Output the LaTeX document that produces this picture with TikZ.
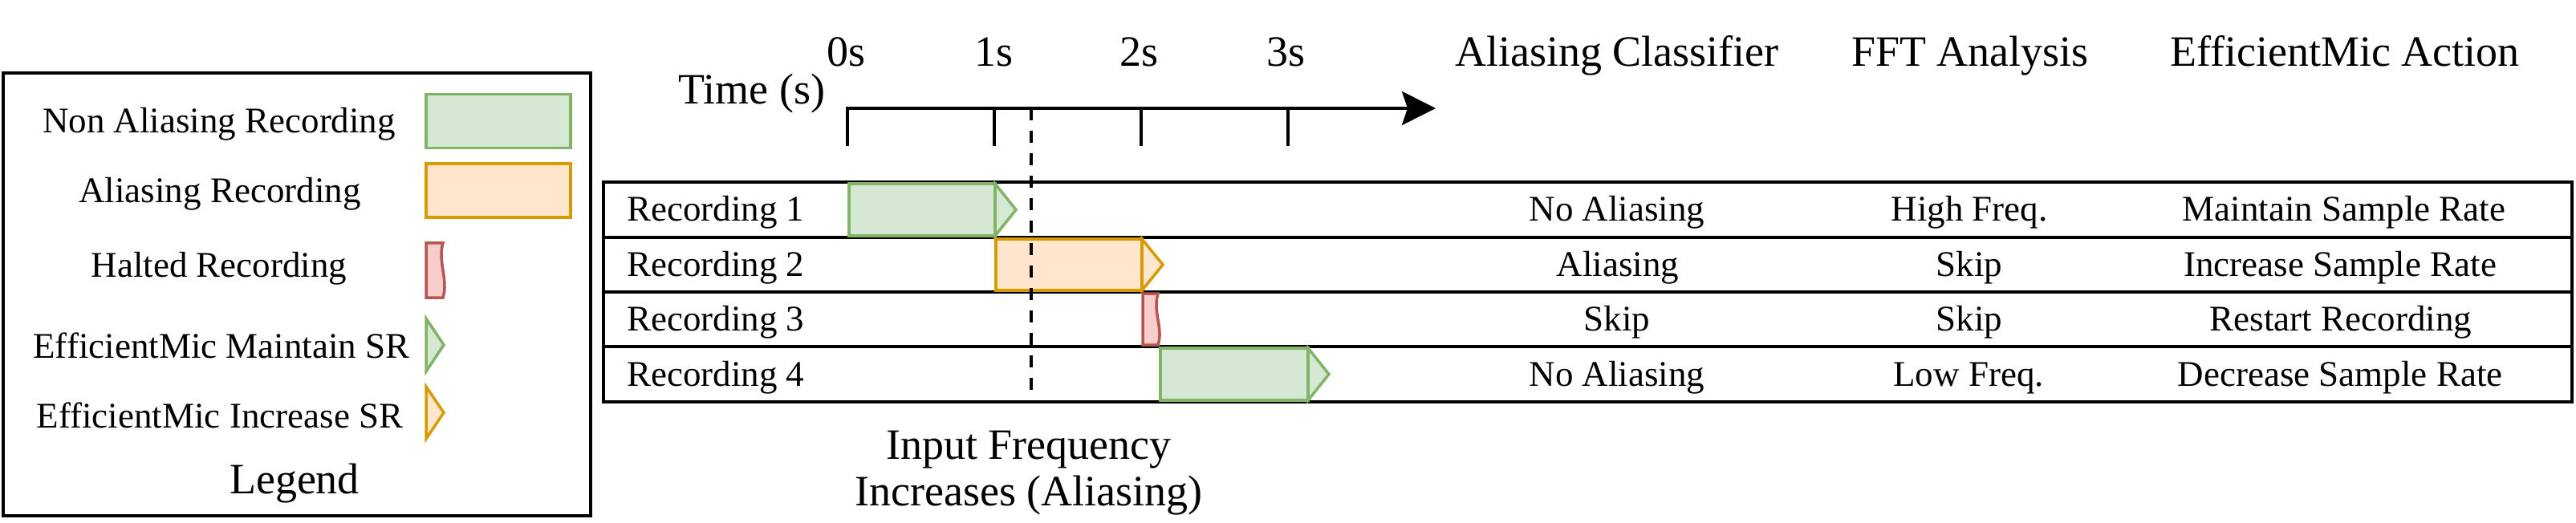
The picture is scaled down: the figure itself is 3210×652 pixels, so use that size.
\documentclass[tikz,border=0pt]{standalone}
\usepackage{fontspec}
\setmainfont{Liberation Serif}
\usetikzlibrary{arrows.meta}
\definecolor{gfill}{HTML}{D5E8D4}
\definecolor{gline}{HTML}{82B366}
\definecolor{ofill}{HTML}{FFE6CC}
\definecolor{oline}{HTML}{D79B00}
\definecolor{rfill}{HTML}{F8CECC}
\definecolor{rline}{HTML}{B85450}
\begin{document}
\begin{tikzpicture}[x=1pt,y=-1pt,
  lblsmall/.style={font=\fontsize{45}{48}\selectfont, inner sep=0pt, anchor=base},
  lblbig/.style={font=\fontsize{54}{58}\selectfont, inner sep=0pt, anchor=base},
  boxframe/.style={draw=black, line width=4pt, inner sep=0pt, outer sep=0pt, anchor=north west},
  greenbar/.style={draw=gline, fill=gfill, line width=3.5pt},
  orangebar/.style={draw=oline, fill=ofill, line width=3.5pt},
  haltbar/.style={draw=rline, fill=rfill, line width=3.5pt},
  axisline/.style={line width=4pt},
  ticklin/.style={line width=4pt},
  dashmark/.style={line width=4pt, dash pattern=on 15pt off 13pt},
]
\useasboundingbox (0,0) rectangle (3210,652);

% ---------- Legend ----------
\node[boxframe, minimum width=732pt, minimum height=552pt] (legend) at (4,91) {};
\draw[greenbar] (531,117.5) rectangle (711,184.5);
\draw[orangebar] (531,204) rectangle (711,271);
\draw[haltbar] (531,303) -- (552,303) .. controls (545,325) and (559,349) .. (552,371) -- (531,371) -- cycle;
\draw[greenbar] (531,397) -- (553,430) -- (531,463) -- cycle;
\draw[orangebar] (531,482) -- (553,514.5) -- (531,547) -- cycle;
\node[lblsmall] (lg1) at (273,166) {Non Aliasing Recording};
\node[lblsmall] (lg2) at (274,253) {Aliasing Recording};
\node[lblsmall] (lg3) at (273,345) {Halted Recording};
\node[lblsmall] (lg4) at (276,446) {EfficientMic Maintain SR};
\node[lblsmall] (lg5) at (274,533) {EfficientMic Increase SR};
\node[lblbig] (lgt) at (367,615) {Legend};

% ---------- Headers ----------
\node[lblbig] (time) at (937,130) {Time (s)};
\node[lblbig] (s0) at (1054,83) {0s};
\node[lblbig] (s1) at (1238,83) {1s};
\node[lblbig] (s2) at (1419,83) {2s};
\node[lblbig] (s3) at (1602,83) {3s};
\node[lblbig] (h1) at (2015,83) {Aliasing Classifier};
\node[lblbig] (h2) at (2455,83) {FFT Analysis};
\node[lblbig] (h3) at (2922,83) {EfficientMic Action};

% ---------- Rows ----------
\node[boxframe, minimum width=2453pt, minimum height=69pt] (row1) at (752,227) {};
\node[boxframe, minimum width=2453pt, minimum height=68pt] (row2) at (752,296) {};
\node[boxframe, minimum width=2453pt, minimum height=68pt] (row3) at (752,364) {};
\node[boxframe, minimum width=2453pt, minimum height=69pt] (row4) at (752,432) {};

\node[lblsmall, anchor=base west] (r1) at (781,276) {Recording 1};
\node[lblsmall, anchor=base west] (r2) at (781,344.5) {Recording 2};
\node[lblsmall, anchor=base west] (r3) at (781,412.5) {Recording 3};
\node[lblsmall, anchor=base west] (r4) at (781,481) {Recording 4};

\node[lblsmall] (c11) at (2015,276) {No Aliasing};
\node[lblsmall] (c12) at (2454,276) {High Freq.};
\node[lblsmall] (c13) at (2921,276) {Maintain Sample Rate};
\node[lblsmall] (c21) at (2016,344.5) {Aliasing};
\node[lblsmall] (c22) at (2454,344.5) {Skip};
\node[lblsmall] (c23) at (2916,344.5) {Increase Sample Rate};
\node[lblsmall] (c31) at (2015,412.5) {Skip};
\node[lblsmall] (c32) at (2454,412.5) {Skip};
\node[lblsmall] (c33) at (2917,412.5) {Restart Recording};
\node[lblsmall] (c41) at (2015,481) {No Aliasing};
\node[lblsmall] (c42) at (2453,481) {Low Freq.};
\node[lblsmall] (c43) at (2916,481) {Decrease Sample Rate};

% ---------- Bars ----------
\draw[greenbar] (1058,229) rectangle (1240,294);
\draw[greenbar] (1240,229) -- (1266,261.5) -- (1240,294) -- cycle;
\draw[orangebar] (1241,298) rectangle (1423,362);
\draw[orangebar] (1423,298) -- (1449,330) -- (1423,362) -- cycle;
\draw[haltbar] (1424,366) -- (1443,366) .. controls (1436,389) and (1450,409) .. (1443,430) -- (1424,430) -- cycle;
\draw[greenbar] (1446,434) rectangle (1630,499);
\draw[greenbar] (1630,434) -- (1656,466.5) -- (1630,499) -- cycle;

% ---------- Time axis ----------
\coordinate (ax0) at (1056,135);
\coordinate (ax0b) at (1056,182);
\coordinate (axend) at (1789,135);
\draw[axisline, -{Stealth[length=42pt,width=42pt,inset=7pt]}] (ax0b) -- (ax0) -- (axend);
\foreach \x/\n in {1239/1,1422/2,1605/3} {
  \coordinate (tk\n) at (\x,135);
  \coordinate (tkb\n) at (\x,182);
  \draw[ticklin] (tk\n) -- (tkb\n);
}
\coordinate (dtop) at (1285,135);
\coordinate (dbot) at (1285,501);
\draw[dashmark] (dtop) -- (dbot);

\node[lblbig, align=center] (inc) at (1282,630) {Input Frequency\\Increases (Aliasing)};
\end{tikzpicture}
\end{document}
